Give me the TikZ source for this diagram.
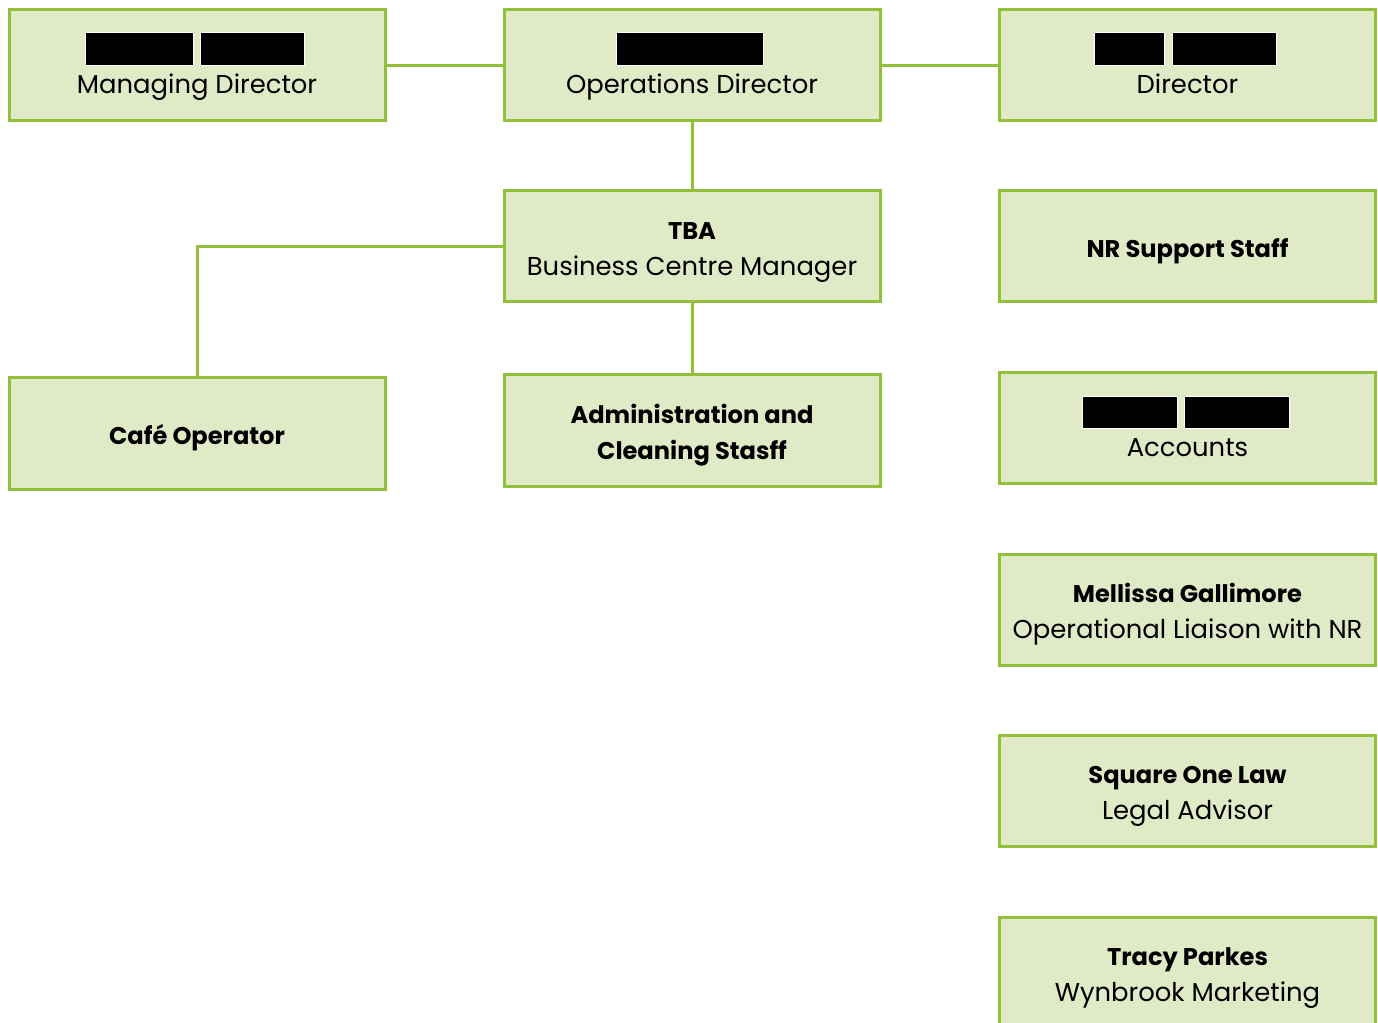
\documentclass[tikz,border=0pt]{standalone}
\usepackage{fontspec}
\setmainfont{Poppins}
\definecolor{boxfill}{RGB}{225,234,199}
\definecolor{boxline}{RGB}{146,192,58}
\begin{document}
\begin{tikzpicture}[x=0.75pt,y=-0.75pt,
  orgbox/.style={draw=boxline,fill=boxfill,line width=2.25pt,minimum width=376*0.75pt,minimum height=111*0.75pt,inner sep=0pt,rectangle},
  conn/.style={draw=boxline,line width=2.25pt},
  lbl/.style={anchor=base,inner sep=0pt,font=\fontsize{19.4}{23}\selectfont},
  blbl/.style={anchor=base,inner sep=0pt,font=\fontsize{18.1}{22}\selectfont\bfseries},
  redact/.style={fill=black,draw=white,line width=0.6pt}]
\useasboundingbox (0,0) rectangle (1378,1023);
\node[orgbox] (md) at (197,65.5) {};
\node[orgbox] (od) at (692,65.5) {};
\node[orgbox] (dir) at (1187.5,65.5) {};
\node[orgbox] (bcm) at (692,246.5) {};
\node[orgbox] (nr) at (1187.5,246.5) {};
\node[orgbox] (cafe) at (197,433.5) {};
\node[orgbox] (adm) at (692,430.5) {};
\node[orgbox] (acc) at (1187.5,428) {};
\node[orgbox] (mel) at (1187.5,609.5) {};
\node[orgbox] (sq) at (1187.5,791) {};
\node[orgbox] (tp) at (1187.5,972.5) {};
% connectors
\draw[conn] (md.east) -- (od.west);
\draw[conn] (od.east) -- (dir.west);
\draw[conn] (od.south) -- (bcm.north);
\draw[conn] (bcm.south) -- (adm.north);
\draw[conn] (bcm.west) -| (cafe.north);
% redaction bars
\path[redact] (85,32) rectangle (193,65);
\path[redact] (200,32) rectangle (304,65);
\path[redact] (616,32) rectangle (763,65);
\path[redact] (1094,32) rectangle (1164,65);
\path[redact] (1172,32) rectangle (1276,65);
\path[redact] (1082,396) rectangle (1177,428);
\path[redact] (1184,396) rectangle (1289,428);
% texts
\node[lbl] (tmd) at (197,93.5) {Managing Director};
\node[lbl] (tod) at (692,93.5) {Operations Director};
\node[lbl] (tdir) at (1187.5,93.5) {Director};
\node[blbl] (tbca) at (692,239.5) {TBA};
\node[lbl] (tbcb) at (692,275.5) {Business Centre Manager};
\node[blbl] (tnr) at (1187.5,257.5) {NR Support Staff};
\node[blbl] (tcafe) at (197,444.5) {Café Operator};
\node[blbl] (tadma) at (692,423.5) {Administration and};
\node[blbl] (tadmb) at (692,459.5) {Cleaning Stasff};
\node[lbl] (tacc) at (1187.5,456.5) {Accounts};
\node[blbl] (tmela) at (1187.5,602.5) {Mellissa Gallimore};
\node[lbl] (tmelb) at (1187.5,638.5) {Operational Liaison with NR};
\node[blbl] (tsqa) at (1187.5,783.5) {Square One Law};
\node[lbl] (tsqb) at (1187.5,819.5) {Legal Advisor};
\node[blbl] (ttpa) at (1187.5,965.5) {Tracy Parkes};
\node[lbl] (ttpb) at (1187.5,1001.5) {Wynbrook Marketing};
\end{tikzpicture}
\end{document}
